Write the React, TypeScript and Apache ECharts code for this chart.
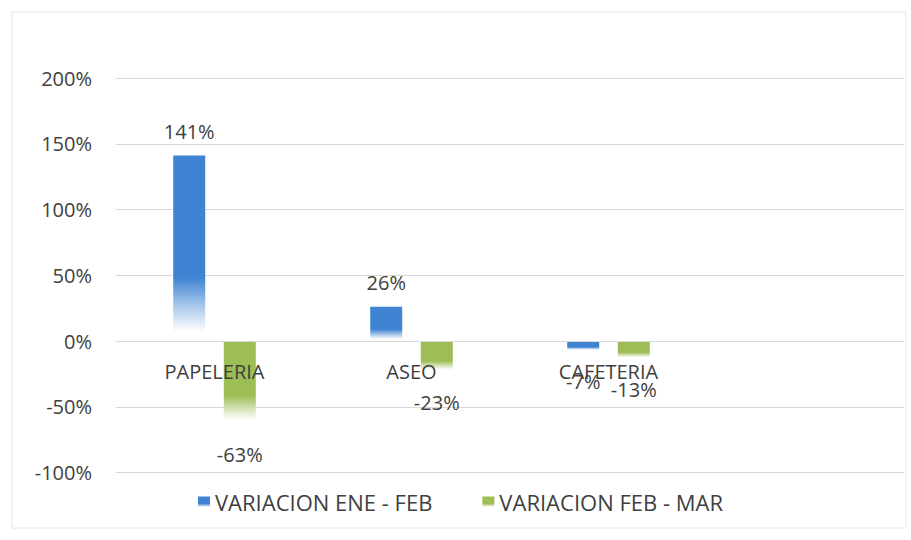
import React, { useEffect, useRef } from "react";
import * as echarts from "echarts";

const categories = ["PAPELERIA", "ASEO", "CAFETERIA", ""];
const eneFeb = [141, 26, -7, null];
const febMar = [-63, -23, -13, null];
const seriesNames = ["VARIACION ENE - FEB", "VARIACION FEB - MAR"];

const FONT = "Open Sans";
const TXT = "#404040";
const FS = 20;

function grad(color: string) {
  return new echarts.graphic.LinearGradient(0, 0, 0, 1, [
    { offset: 0, color },
    { offset: 0.66, color },
    { offset: 0.95, color: "rgba(255,255,255,0.9)" },
    { offset: 1, color: "rgba(255,255,255,0.9)" },
  ]);
}

function toData(vals: (number | null)[]) {
  return vals.map((v) =>
    v == null
      ? null
      : {
          value: v,
          label: v < 0 ? { position: "bottom", distance: 21 } : { position: "top", distance: 14 },
        }
  );
}

export default function App() {
  const ref = useRef<HTMLDivElement>(null);
  useEffect(() => {
    const chart = echarts.init(ref.current!, null, { renderer: "svg" });
    const gridTop = 78;
    const gridBottom = 67.5;
    const plotH = 540 - gridTop - gridBottom;
    const zeroOffset = -(plotH * 100) / 300; // shift x axis from bottom (-100%) up to 0%
    chart.setOption({
      animation: false,
      backgroundColor: "#ffffff",
      textStyle: { fontFamily: FONT },
      graphic: [
        {
          type: "rect",
          shape: { x: 12, y: 12, width: 894, height: 516 },
          style: { fill: "none", stroke: "#e4e4e4", lineWidth: 1 },
          silent: true,
        },
      ],
      grid: { left: 116, right: 7, top: gridTop, bottom: gridBottom, containLabel: false },
      legend: {
        left: 193,
        top: 486,
        itemWidth: 12,
        itemHeight: 11,
        itemGap: 50,
        icon: "rect",
        textStyle: { color: TXT, fontSize: 22, fontFamily: FONT },
        data: seriesNames,
      },
      xAxis: {
        type: "category",
        data: categories,
        offset: zeroOffset,
        z: 5,
        axisLine: { show: true, onZero: false, lineStyle: { color: "#d9d9d9" } },
        axisTick: { show: false },
        axisLabel: { color: TXT, fontSize: FS, fontFamily: FONT, margin: 20 },
        splitLine: { show: false },
      },
      yAxis: {
        type: "value",
        min: -100,
        max: 200,
        interval: 50,
        axisLine: { show: false },
        axisTick: { show: false },
        axisLabel: { color: TXT, fontSize: FS, fontFamily: FONT, formatter: "{value}%", margin: 24 },
        splitLine: { lineStyle: { color: "#d9d9d9" } },
      },
      series: [
        {
          name: seriesNames[0],
          type: "bar",
          data: toData(eneFeb),
          barWidth: 32,
          barGap: "58%",
          itemStyle: { color: grad("#3f84d3") },
          label: { show: true, formatter: "{c}%", color: TXT, fontSize: FS, fontFamily: FONT },
        },
        {
          name: seriesNames[1],
          type: "bar",
          data: toData(febMar),
          barWidth: 32,
          barGap: "58%",
          itemStyle: { color: grad("#9dbd55") },
          label: { show: true, formatter: "{c}%", color: TXT, fontSize: FS, fontFamily: FONT },
        },
      ],
    });
    return () => chart.dispose();
  }, []);
  return <div ref={ref} style={{ width: 911, height: 540, position: "absolute", left: 0, top: 0 }} />;
}
